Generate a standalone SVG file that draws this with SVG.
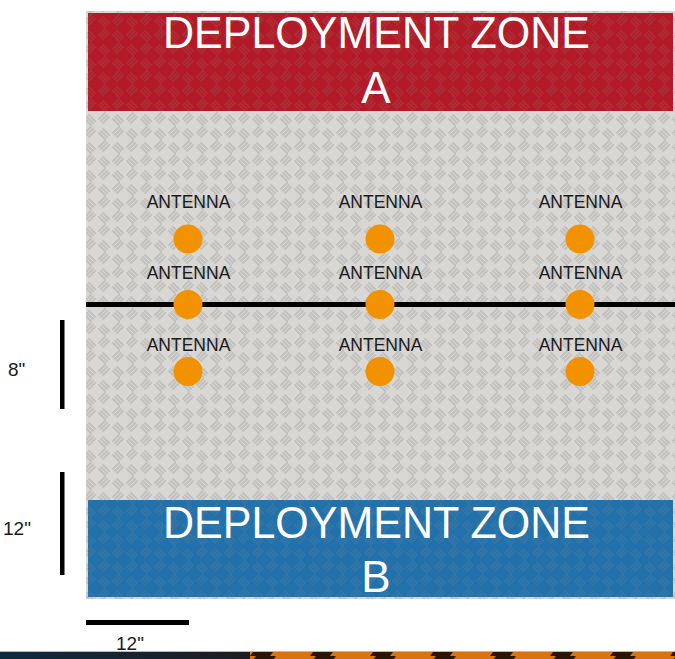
<svg xmlns="http://www.w3.org/2000/svg" width="675" height="659" viewBox="0 0 675 659">
  <style>
    .title { font-family: "Liberation Sans", Arial, sans-serif; font-size: 44px; fill: #ffffff; text-anchor: middle; }
    .ant { font-family: "Liberation Sans", Arial, sans-serif; font-size: 17.5px; fill: #1a1a1a; text-anchor: middle; }
    .dim { font-family: "Liberation Sans", Arial, sans-serif; font-size: 19px; fill: #1a1a1a; }
    .dot { fill: #f39200; }
    .bar { fill: #000000; }
  </style>
  <defs>
    <pattern id="plate" x="0" y="0" width="28" height="28" patternUnits="userSpaceOnUse">
      <g stroke="#8f8d8b" stroke-width="2" stroke-linecap="round" opacity="0.3">
        <path d="M3 5 L9 11 M5 3 L11 9 M1 7 L7 13"/>
        <path d="M17 19 L23 25 M19 17 L25 23 M15 21 L21 27"/>
        <path d="M23 3 L17 9 M25 5 L19 11 M21 1 L15 7"/>
        <path d="M9 17 L3 23 M11 19 L5 25 M7 15 L1 21"/>
      </g>
    </pattern>
    <pattern id="hazard" x="0" y="0" width="60" height="8" patternUnits="userSpaceOnUse">
      <rect width="60" height="8" fill="#d9730f"/>
      <polygon points="10,8 30,8 36,0 16,0" fill="#2a1406"/>
    </pattern>
    <linearGradient id="darkstrip" x1="0" y1="0" x2="1" y2="0">
      <stop offset="0" stop-color="#0f2a3d"/>
      <stop offset="1" stop-color="#1d1d22"/>
    </linearGradient>
  </defs>

  <rect width="675" height="659" fill="#ffffff"/>

  <g id="board">
    <rect x="86" y="11" width="589" height="588" fill="#d9d7d4"/>
    <rect x="86" y="11" width="589" height="588" fill="url(#plate)"/>
  </g>

  <g id="zone-a">
    <rect x="88" y="13" width="585" height="98" fill="#b21a27"/>
    <rect x="88" y="13" width="585" height="98" fill="url(#plate)" opacity="0.5"/>
    <text class="title" x="376.5" y="48" textLength="427" lengthAdjust="spacingAndGlyphs">DEPLOYMENT ZONE</text>
    <text class="title" x="376" y="103">A</text>
  </g>

  <g id="zone-b">
    <rect x="88" y="500" width="585" height="97" fill="#2271ab"/>
    <rect x="88" y="500" width="585" height="97" fill="url(#plate)" opacity="0.5"/>
    <text class="title" x="376.5" y="538" textLength="427" lengthAdjust="spacingAndGlyphs">DEPLOYMENT ZONE</text>
    <text class="title" x="376" y="592">B</text>
  </g>

  <g id="midline">
    <rect x="86" y="302" width="589" height="5" class="bar"/>
  </g>

  <g id="antenna-1-1"><text class="ant" x="188.5" y="208">ANTENNA</text><circle class="dot" cx="188" cy="239" r="14.5"/></g>
  <g id="antenna-1-2"><text class="ant" x="380.5" y="208">ANTENNA</text><circle class="dot" cx="380" cy="239" r="14.5"/></g>
  <g id="antenna-1-3"><text class="ant" x="580.5" y="208">ANTENNA</text><circle class="dot" cx="580" cy="239" r="14.5"/></g>

  <g id="antenna-2-1"><text class="ant" x="188.5" y="279">ANTENNA</text><circle class="dot" cx="188" cy="304.5" r="14.5"/></g>
  <g id="antenna-2-2"><text class="ant" x="380.5" y="279">ANTENNA</text><circle class="dot" cx="380" cy="304.5" r="14.5"/></g>
  <g id="antenna-2-3"><text class="ant" x="580.5" y="279">ANTENNA</text><circle class="dot" cx="580" cy="304.5" r="14.5"/></g>

  <g id="antenna-3-1"><text class="ant" x="188.5" y="351">ANTENNA</text><circle class="dot" cx="188" cy="371.5" r="14.5"/></g>
  <g id="antenna-3-2"><text class="ant" x="380.5" y="351">ANTENNA</text><circle class="dot" cx="380" cy="371.5" r="14.5"/></g>
  <g id="antenna-3-3"><text class="ant" x="580.5" y="351">ANTENNA</text><circle class="dot" cx="580" cy="371.5" r="14.5"/></g>

  <g id="scale-8in">
    <rect x="60" y="320" width="4.5" height="89" class="bar"/>
    <text class="dim" x="8" y="376">8&quot;</text>
  </g>
  <g id="scale-12in-vertical">
    <rect x="60" y="472" width="4.5" height="103" class="bar"/>
    <text class="dim" x="3" y="535">12&quot;</text>
  </g>
  <g id="scale-12in-horizontal">
    <rect x="86" y="620" width="103" height="5" class="bar"/>
    <text class="dim" x="116" y="650">12&quot;</text>
  </g>

  <g id="bottom-strip">
    <rect x="0" y="651" width="675" height="1" fill="#b8b8b8"/>
    <rect x="0" y="652" width="250" height="7" fill="url(#darkstrip)"/>
    <rect x="250" y="652" width="425" height="7" fill="url(#hazard)"/>
  </g>
</svg>
